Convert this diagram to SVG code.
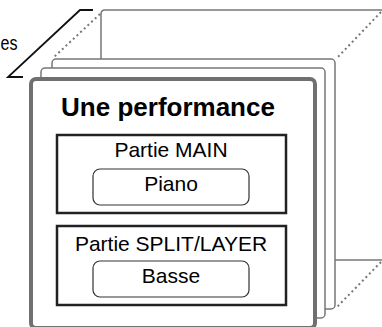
<svg xmlns="http://www.w3.org/2000/svg" width="382" height="327" viewBox="0 0 382 327">
<style>
.card{fill:#fff;stroke:#777;stroke-width:1.5}
.front{fill:#fff;stroke:#707070;stroke-width:4}
.dot{fill:none;stroke:#777;stroke-width:2;stroke-dasharray:2 3}
.part{fill:#fff;stroke:#222;stroke-width:2.5}
.inst{fill:#fff;stroke:#333;stroke-width:1.2}
.t{font-family:"Liberation Sans",Arial,sans-serif;fill:#000}
</style>
<rect width="382" height="327" fill="#fff"/>
<g id="stack">
<path class="card" style="fill:none" d="M101,60 V14 Q101,10 105,10 H383 M335,260 H383"/>
<line class="dot" x1="100" y1="14" x2="53" y2="58"/>
<line class="dot" x1="381" y1="12" x2="336" y2="59"/>
<line class="dot" x1="381" y1="262" x2="336" y2="308"/>
<rect class="card" x="52" y="59" width="283" height="250" rx="4"/>
<rect class="card" x="41" y="68" width="284" height="250" rx="4"/>
</g>
<g id="label">
<polyline points="93,10 80,10 8,77 23,77" fill="none" stroke="#111" stroke-width="1.8"/>
<text class="t" x="0.5" y="50" font-size="20" textLength="17" lengthAdjust="spacingAndGlyphs">es</text>
</g>
<g id="performance">
<rect class="front" x="31" y="79" width="284" height="249" rx="5"/>
<text class="t" x="168" y="116" font-size="26" font-weight="bold" text-anchor="middle">Une performance</text>
</g>
<g id="partie-main">
<rect class="part" x="57" y="135" width="229" height="78"/>
<text class="t" x="171" y="157" font-size="21" text-anchor="middle">Partie MAIN</text>
</g>
<g id="piano">
<rect class="inst" x="93" y="169" width="156" height="36" rx="7"/>
<text class="t" x="171" y="191" font-size="21" text-anchor="middle">Piano</text>
</g>
<g id="partie-split">
<rect class="part" x="57" y="226" width="229" height="79"/>
<text class="t" x="171" y="251" font-size="21" text-anchor="middle">Partie SPLIT/LAYER</text>
</g>
<g id="basse">
<rect class="inst" x="93" y="261" width="156" height="36" rx="7"/>
<text class="t" x="171" y="283" font-size="21" text-anchor="middle">Basse</text>
</g>
<g id="connectors"></g>
</svg>
